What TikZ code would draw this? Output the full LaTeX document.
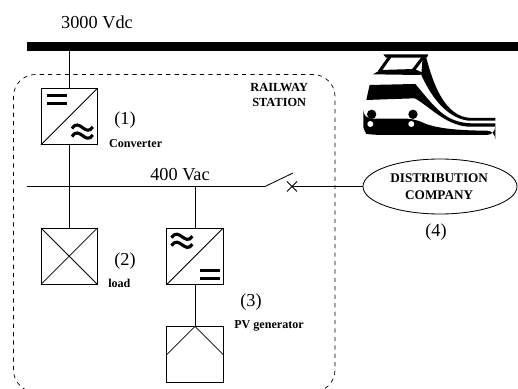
\documentclass[tikz,border=0pt]{standalone}
\usepackage{fontspec}
\setmainfont{Liberation Serif}
\usetikzlibrary{shapes.geometric,calc}

\begin{document}
\begin{tikzpicture}[
    box/.style={
        rectangle,
        draw,
        line width=0.6pt,
        minimum size=1.41cm,
        inner sep=0pt,
        outer sep=0pt
    },
    wire/.style={line width=0.6pt},
    number/.style={font=\fontsize{13}{15}\selectfont, inner sep=0pt},
    note/.style={font=\fontsize{8.6}{10}\selectfont\bfseries, inner sep=0pt},
    heading/.style={font=\fontsize{9.4}{12}\selectfont\bfseries, inner sep=0pt, align=center},
    eqsym/.pic={
        \draw[line width=2.1pt] (-0.25,0.1) -- (0.25,0.1);
        \draw[line width=2.1pt] (-0.25,-0.1) -- (0.25,-0.1);
    },
    acsym/.pic={
        \draw[line width=2.2pt] (-0.26,0.07) .. controls (-0.08,0.36) and (0.08,-0.16) .. (0.26,0.11);
        \draw[line width=2.2pt] (-0.26,-0.13) .. controls (-0.08,0.16) and (0.08,-0.36) .. (0.26,-0.09);
    }
]
\clip (0,0) rectangle (12.95,9.725);
\useasboundingbox (0,0) rectangle (12.95,9.725);

% busbars
\node[fill=black, minimum width=12.275cm, minimum height=0.225cm, inner sep=0pt, outer sep=0pt] (bus) at (6.8125,8.55) {};
\node[number] (dc) at (2.425,9.17) {3000 Vdc};
\coordinate (acleft) at (0.675,5.0625);
\coordinate (switcha) at (6.625,5.0625);
\coordinate (switchb) at (7.325,5.4);
\coordinate (cross) at (7.3,5.0625);

% station
\draw[dashed, line width=0.5pt, rounded corners=0.55cm] (0.3375,-0.075) rectangle (8.375,7.8625);
\node[note, align=center, font=\fontsize{8.8}{11}\selectfont\bfseries] (station) at (6.98,7.35) {RAILWAY\\STATION};

% blocks
\node[box] (conv) at (1.73,6.81) {};
\node[box] (load) at (1.73,3.32) {};
\node[box] (inv) at (4.875,3.32) {};
\node[box] (pv) at (4.875,0.86) {};
\node[ellipse, draw, line width=0.6pt, minimum width=3.85cm, minimum height=1.375cm, inner sep=0pt, outer sep=0pt] (company) at (11,5.0625) {};
\node[heading] (companytext) at (10.98,5.06) {DISTRIBUTION\\COMPANY};

\draw[wire] (conv.south west) -- (conv.north east);
\pic at ($(conv.center)+(-0.305,0.43)$) {eqsym};
\pic at ($(conv.center)+(0.33,-0.37)$) {acsym};
\draw[wire] (load.south west) -- (load.north east);
\draw[wire] (load.north west) -- (load.south east);
\draw[wire] (inv.south west) -- (inv.north east);
\pic at ($(inv.center)+(-0.325,0.39)$) {acsym};
\pic at ($(inv.center)+(0.375,-0.45)$) {eqsym};
\draw[wire] (pv.north) -- (pv.west);
\draw[wire] (pv.north) -- (pv.east);

% connections
\draw[wire] (bus.south -| conv.north) -- (conv.north);
\draw[wire] (acleft) -- (switcha) -- (switchb);
\draw[wire] (cross) -- (company.west);
\draw[wire] ($(cross)+(-0.125,-0.125)$) -- ($(cross)+(0.125,0.125)$);
\draw[wire] ($(cross)+(-0.125,0.125)$) -- ($(cross)+(0.125,-0.125)$);
\draw[wire] (conv.south) -- (load.north);
\draw[wire] (acleft -| inv.north) -- (inv.north);
\draw[wire] (inv.south) -- (pv.north);

% labels
\node[number] (acv) at (4.5,5.35) {400 Vac};
\node[number] (n1) at (3.125,6.72) {(1)};
\node[note, anchor=west] (n1a) at (2.72,6.13) {Converter};
\node[number] (n2) at (3.125,3.2) {(2)};
\node[note, anchor=west] (n2a) at (2.7,2.63) {load};
\node[number] (n3) at (6.275,2.18) {(3)};
\node[note, anchor=west] (n3a) at (5.85,1.58) {PV generator};
\node[number] (n4) at (10.9,3.93) {(4)};

% train
\begin{scope}[shift={(6.45,8.975)}, x=0.00833cm, y=-0.00833cm]
\fill (376,73) -- (511,73) -- (507,83) -- (384,83) -- cycle;
\draw[line width=2.2pt] (396,80) -- (364,125);
\draw[line width=2.2pt] (497,80) -- (465,122);
\fill (345,133) -- (368,120) -- (470,117) -- (501,132) -- (482,135) -- cycle;
\fill (494,83) -- (505,83) .. controls (525,160) and (560,262) .. (640,264) -- (712,264)
      -- (712,272) -- (630,272) .. controls (560,262) and (515,190) .. (490,135) -- cycle;
\fill (335,165) -- (472,162) .. controls (530,230) and (560,278) .. (640,280) -- (712,280)
      -- (712,290) -- (630,290) .. controls (560,285) and (510,225) .. (470,205) -- (325,210) -- cycle;
\fill[rounded corners=6pt] (316,266) -- (470,266) .. controls (530,295) and (600,302) .. (712,302)
      -- (712,315) -- (350,315) .. controls (325,312) and (316,295) .. (316,266) -- cycle;
\fill (341,253) circle (14);
\fill (465,253) circle (14);
\fill[white] (337,282) circle (9);
\fill[white] (460,282) circle (9);
\end{scope}
\end{tikzpicture}
\end{document}
